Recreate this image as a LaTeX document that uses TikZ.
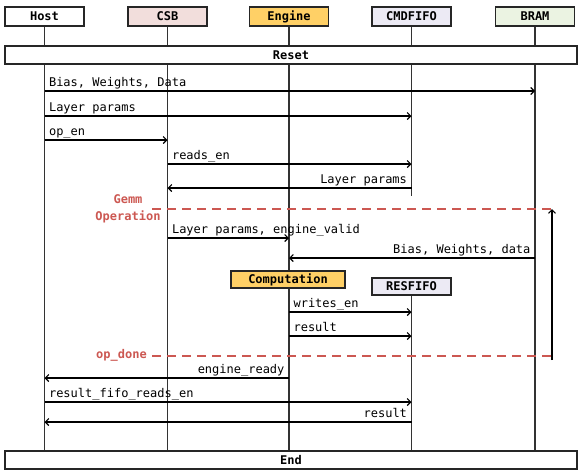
\documentclass[tikz,border=0pt]{standalone}
\usepackage{fontspec}
\setmonofont{DejaVu Sans Mono}
\usetikzlibrary{arrows.meta,calc}
\definecolor{csbpink}{RGB}{242,222,220}
\definecolor{engineyellow}{RGB}{255,208,102}
\definecolor{fifolilac}{RGB}{236,234,244}
\definecolor{bramgreen}{RGB}{235,243,226}
\definecolor{gemmred}{RGB}{204,88,82}
\begin{document}
\begin{tikzpicture}[x=1pt,y=-1pt,
    >={Straight Barb[length=3.5pt,width=7pt]},
    font={\ttfamily\fontsize{12}{14}\selectfont},
    actor/.style={draw=black!85,line width=1.2pt,minimum width=79pt,
      minimum height=19pt,inner sep=0pt,
      font={\ttfamily\bfseries\fontsize{12}{14}\selectfont}},
    bar/.style={draw=black!85,fill=white,line width=1.2pt,minimum width=572pt,
      minimum height=18pt,inner sep=0pt,
      font={\ttfamily\bfseries\fontsize{12}{14}\selectfont}},
    life/.style={line width=1.2pt,black!80},
    msg/.style={->,line width=1.1pt},
    lbl/.style={inner sep=0pt},
    gemm/.style={gemmred,dash pattern=on 9pt off 6pt,line width=1.4pt},
    note/.style={inner sep=0pt,text=gemmred,align=center,
      font={\ttfamily\bfseries\fontsize{12}{17}\selectfont}}]
\useasboundingbox (0,0) rectangle (581,475);
%
      \node[actor,fill=white] (host) at (44.5,16.5) {Host};
      \node[actor,fill=csbpink] (csb) at (167.5,16.5) {CSB};
      \node[actor,fill=engineyellow] (engine) at (289,16.5) {Engine};
      \node[actor,fill=fifolilac] (cmdfifo) at (411.5,16.5) {CMDFIFO};
      \node[actor,fill=bramgreen] (bram) at (535,16.5) {BRAM};
%
      \node[bar] (reset) at (291,55) {Reset};
      \node[bar] (end) at (291,460) {End};
%
      \foreach \who in {host,csb,engine,bram} {
        \draw[life] (\who.south) -- (\who |- reset.north);
        \draw[life] (\who |- reset.south) -- (\who |- end.north);
      }
      \draw[life] (cmdfifo.south) -- (cmdfifo |- reset.north);
      \draw[life] (cmdfifo |- reset.south) -- (cmdfifo |- 0,196);
%
      \node[actor,fill=engineyellow,minimum width=114pt,minimum height=17pt] (comp) at (288,279.5) {Computation};
      \node[actor,fill=fifolilac,minimum height=17pt] (resfifo) at (411.5,286.5) {RESFIFO};
      \draw[life] (resfifo.south) -- (resfifo |- end.north);
%
      \draw[msg] (host |- 0,91) node[lbl,anchor=base west,xshift=4pt,yshift=5pt] {Bias, Weights, Data} -- (bram |- 0,91);
      \draw[msg] (host |- 0,116) node[lbl,anchor=base west,xshift=4pt,yshift=5pt] {Layer params} -- (cmdfifo |- 0,116);
      \draw[msg] (host |- 0,140) node[lbl,anchor=base west,xshift=4pt,yshift=5pt] {op\_en} -- (csb |- 0,140);
      \draw[msg] (csb |- 0,164) node[lbl,anchor=base west,xshift=4pt,yshift=5pt] {reads\_en} -- (cmdfifo |- 0,164);
      \draw[msg] (cmdfifo |- 0,188) node[lbl,anchor=base east,xshift=-4pt,yshift=5pt] {Layer params} -- (csb |- 0,188);
%
      \draw[gemm] (152,209) coordinate (gemmstart) -- (552,209) coordinate (gemmend);
      \node[note] (gemmlbl) at (128,208.5) {Gemm\\Operation};
%
      \draw[msg] (csb |- 0,238) node[lbl,anchor=base west,xshift=4pt,yshift=5pt] {Layer params, engine\_valid} -- (engine |- 0,238);
      \draw[msg] (bram |- 0,258) node[lbl,anchor=base east,xshift=-4pt,yshift=5pt] {Bias, Weights, data} -- (engine |- 0,258);
      \draw[msg] (engine |- 0,312) node[lbl,anchor=base west,xshift=4pt,yshift=5pt] {writes\_en} -- (resfifo |- 0,312);
      \draw[msg] (engine |- 0,336) node[lbl,anchor=base west,xshift=4pt,yshift=5pt] {result} -- (resfifo |- 0,336);
%
      \draw[gemm] (152,356) coordinate (donestart) -- (552,356) coordinate (doneend);
      \node[note,anchor=east] (donelbl) at (147,355) {op\_done};
      \draw[->,line width=1.1pt] ($(doneend)+(0,4)$) -- (gemmend);
%
      \draw[msg] (engine |- 0,378) node[lbl,anchor=base east,xshift=-4pt,yshift=5pt] {engine\_ready} -- (host |- 0,378);
      \draw[msg] (host |- 0,402) node[lbl,anchor=base west,xshift=4pt,yshift=5pt] {result\_fifo\_reads\_en} -- (resfifo |- 0,402);
      \draw[msg] (resfifo |- 0,422) node[lbl,anchor=base east,xshift=-4pt,yshift=5pt] {result} -- (host |- 0,422);
%
\end{tikzpicture}
\end{document}
